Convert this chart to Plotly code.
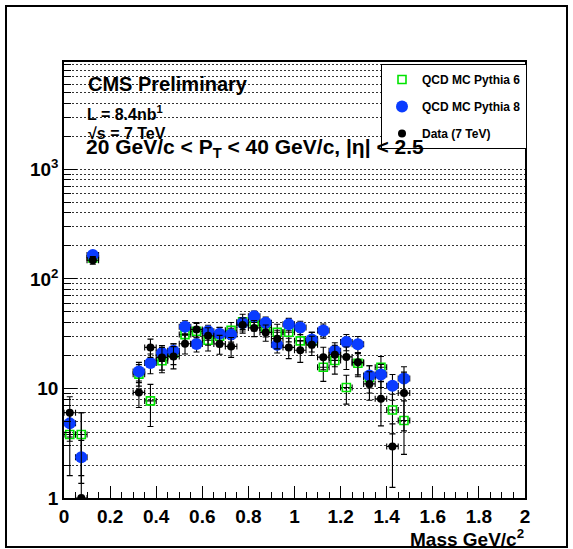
import plotly.graph_objects as go

# ---- data ----
mass = [0.025, 0.075, 0.125, 0.175, 0.225, 0.275, 0.325, 0.375, 0.425, 0.475,
        0.525, 0.575, 0.625, 0.675, 0.725, 0.775, 0.825, 0.875, 0.925, 0.975,
        1.025, 1.075, 1.125, 1.175, 1.225, 1.275, 1.325, 1.375, 1.425, 1.475]
bin_half = [0.025] * len(mass)

pythia6 = [3.8, 3.8, 155, None, None, None, 13.5, 7.7, 17.9, 21.0,
           31.0, 33.3, 27.5, 30.0, 34.0, 40.5, 40.5, 36.0, 32.6, 32.6,
           27.2, 27.0, 15.6, 18.0, 10.2, 17.0, 12.6, 15.6, 6.35, 5.1]
pythia6_err = [2.2, 2.2, 12, 0, 0, 0, 3.0, 3.2, 4.0, 4.5,
               5.5, 6.0, 5.5, 6.0, 6.0, 7.0, 7.0, 6.5, 6.0, 6.0,
               5.5, 5.5, 4.0, 4.5, 3.0, 4.2, 3.5, 4.0, 2.5, 2.6]

pythia8 = [4.8, 2.36, 165, None, None, None, 14.3, 17.1, 21.1, 22.1,
           36.5, 25.5, 33.3, 31.6, 31.0, 39.5, 45.5, 39.8, 25.1, 38.6,
           36.0, 28.0, 33.8, 22.1, 26.6, 25.3, 13.1, 13.4, 10.6, 12.3]
pythia8_err = [1.5, 1.0, 10, 0, 0, 0, 3.0, 3.5, 3.5, 3.5,
               5.0, 4.0, 4.5, 4.5, 4.5, 5.0, 5.5, 5.0, 4.0, 5.0,
               5.0, 4.5, 5.0, 4.0, 4.5, 4.5, 3.0, 3.2, 2.8, 3.5]

data7 = [6.0, 1.0, 148, None, None, None, 9.2, 23.7, 19.2, 19.6,
         25.6, 34.5, 30.3, 25.5, 24.2, 38.0, 35.7, 32.5, 28.5, 23.7,
         22.3, 25.0, 19.3, 20.3, 19.4, 17.3, 11.0, 8.05, 2.95, 9.1]
data7_err_up = [2.4, 5.0, 12, 0, 0, 0, 2.5, 4.5, 4.5, 4.5,
                5.0, 5.5, 5.5, 5.0, 5.0, 6.0, 6.0, 5.5, 5.5, 5.0,
                5.0, 5.0, 4.5, 4.5, 4.5, 4.0, 3.2, 3.5, 1.8, 5.0]
data7_err_dn = [2.4, 0.0, 12, 0, 0, 0, 2.5, 4.5, 4.5, 4.5,
                5.0, 5.5, 5.5, 5.0, 5.0, 6.0, 6.0, 5.5, 5.5, 5.0,
                5.0, 5.0, 4.5, 4.5, 4.5, 4.0, 3.2, 3.5, 1.7, 5.0]

y_tickvals = [1, 10, 100, 1000]
y_ticktext = ["1", "10", "10<sup>2</sup>", "10<sup>3</sup>"]
x_tickvals = [0, 0.2, 0.4, 0.6, 0.8, 1.0, 1.2, 1.4, 1.6, 1.8, 2.0]
x_ticktext = ["0", "0.2", "0.4", "0.6", "0.8", "1", "1.2", "1.4", "1.6", "1.8", "2"]

FONT = "Liberation Sans, Arial, Helvetica, sans-serif"
W, H = 573, 549
ML, MR, MT, MB = 64, 48, 62, 51
PW, PH = W - ML - MR, H - MT - MB


def px(x):
    return (x - ML) / PW


def py(y):
    return (H - MB - y) / PH


def ebar(arr, arrminus=None):
    d = dict(type="data", array=arr, visible=True, color="black",
             thickness=1.1, width=3)
    if arrminus is not None:
        d["symmetric"] = False
        d["arrayminus"] = arrminus
    return d


fig = go.Figure()
fig.add_trace(go.Scatter(
    x=mass, y=pythia6, mode="markers", name="QCD MC Pythia 6",
    legendgroup="a",
    marker=dict(symbol="square-open", size=8, color="#00e400",
                line=dict(width=1.6, color="#00e400")),
    error_y=ebar(pythia6_err), error_x=ebar(bin_half)))
fig.add_trace(go.Scatter(
    x=mass, y=pythia8, mode="markers", name="QCD MC Pythia 8",
    legendgroup="b",
    marker=dict(symbol="circle", size=12, color="#0a3cff"),
    error_y=ebar(pythia8_err), error_x=ebar(bin_half)))
fig.add_trace(go.Scatter(
    x=mass, y=data7, mode="markers", name="Data (7 TeV)",
    legendgroup="c",
    marker=dict(symbol="circle", size=8, color="black"),
    error_y=ebar(data7_err_up, data7_err_dn), error_x=ebar(bin_half)))

annots = [
    dict(text="<b>CMS Preliminary</b>", x=px(86), y=py(84), size=20),
    dict(text="<b>L = 8.4nb<sup>1</sup></b>", x=px(85), y=py(113), size=16),
    dict(text="<b>√s = 7 TeV</b>", x=px(86), y=py(133), size=16),
    dict(text="<b>20 GeV/c < P<sub>T</sub> < 40 GeV/c, |η| < 2.5</b>",
         x=px(84), y=py(148), size=21),
]
annotations = []
for a in annots:
    annotations.append(dict(text=a["text"], x=a["x"], y=a["y"], xref="paper",
                            yref="paper", xanchor="left", yanchor="middle",
                            showarrow=False,
                            font=dict(family=FONT, size=a["size"], color="black")))
annotations.append(dict(text="<b>Mass GeV/c<sup>2</sup></b>", x=px(526), y=py(538),
                        xref="paper", yref="paper", xanchor="right",
                        yanchor="middle", showarrow=False,
                        font=dict(family=FONT, size=19, color="black")))

fig.update_layout(
    width=W, height=H,
    margin=dict(l=ML, r=MR, t=MT, b=MB),
    paper_bgcolor="white", plot_bgcolor="white",
    showlegend=True,
    legend=dict(x=px(527), y=py(64), xanchor="right", yanchor="top",
                bgcolor="white", bordercolor="black", borderwidth=1,
                tracegroupgap=8,
                font=dict(family=FONT, size=12, color="black", weight="bold")),
    annotations=annotations,
    shapes=[dict(type="rect", xref="paper", yref="paper",
                 x0=px(6), x1=px(567), y0=py(547), y1=py(6),
                 line=dict(color="black", width=2), layer="below")],
)

fig.update_xaxes(
    range=[0, 2], tickvals=x_tickvals, ticktext=x_ticktext,
    ticks="inside", ticklen=12, tickwidth=1, tickcolor="black",
    showline=True, linecolor="black", linewidth=1.5, mirror=True,
    showgrid=False, zeroline=False,
    tickfont=dict(family=FONT, size=19, color="black", weight="bold"),
    minor=dict(dtick=0.05, ticks="inside", ticklen=6, tickcolor="black",
               showgrid=False),
)
fig.update_yaxes(
    type="log", range=[0, 3.98], tickvals=y_tickvals, ticktext=y_ticktext,
    ticks="inside", ticklen=13, tickwidth=1, tickcolor="black",
    showline=True, linecolor="black", linewidth=1.5, mirror=True,
    showgrid=True, gridcolor="#333333", gridwidth=1, griddash="2px,2px",
    zeroline=False,
    tickfont=dict(family=FONT, size=19, color="black", weight="bold"),
    minor=dict(dtick="D1", ticks="inside", ticklen=7, tickcolor="black",
               showgrid=True, gridcolor="#333333", gridwidth=1,
               griddash="2px,2px"),
)

fig.write_html("out.html")
